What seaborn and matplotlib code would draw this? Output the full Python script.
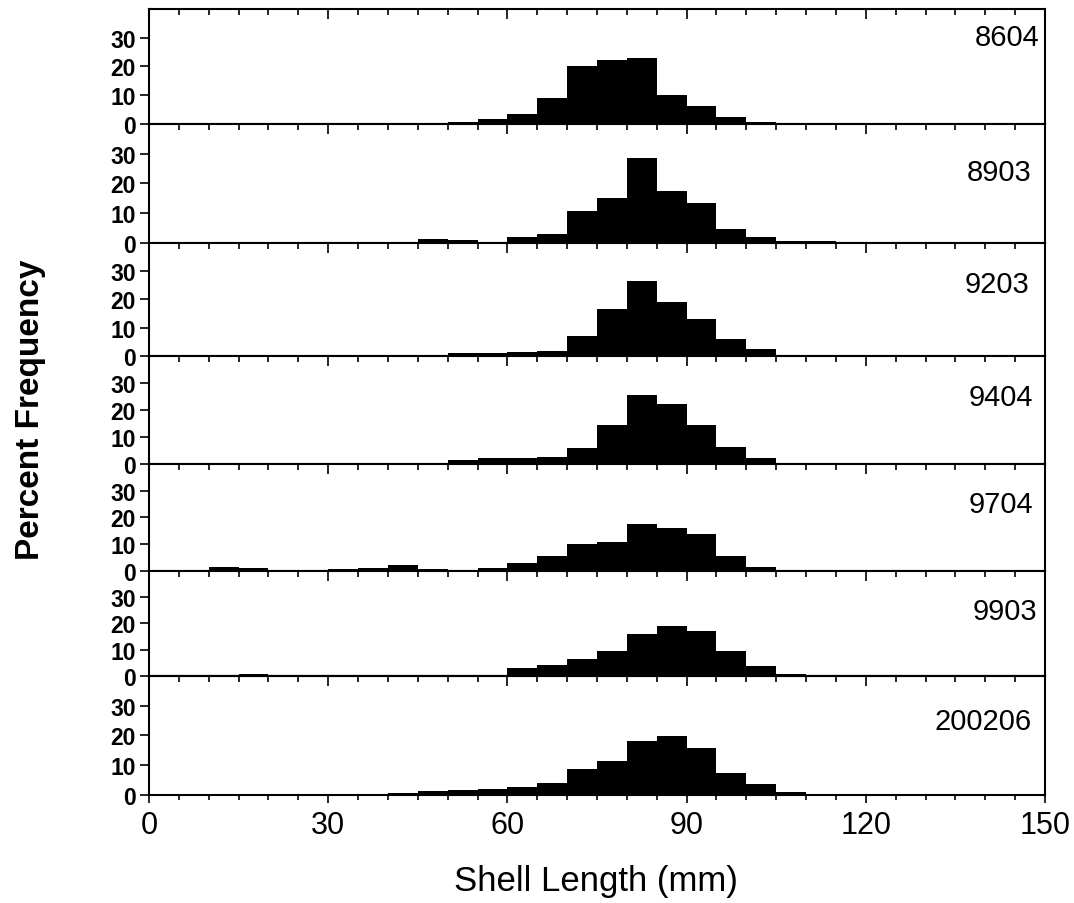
import numpy as np
import pandas as pd
import matplotlib
matplotlib.use('Agg')
import matplotlib.pyplot as plt
import seaborn as sns

# 5 mm size classes, 0-150 mm (left edges)
bin_left = list(range(0, 150, 5))

# percent frequency per size class
p8604 = [0, 0, 0, 0, 0, 0, 0, 0, 0, 0,
         0.6, 1.7, 3.4, 8.9, 20.1, 22.1, 23.1, 10.2, 6.2, 2.5,
         0.6, 0, 0, 0, 0, 0, 0, 0, 0, 0]
p8903 = [0, 0, 0, 0, 0, 0, 0, 0, 0.4, 1.2,
         1.0, 0.4, 2.1, 2.9, 10.9, 15.1, 28.5, 17.4, 13.5, 4.7,
         2.0, 0.6, 0.5, 0, 0, 0, 0, 0, 0, 0]
p9203 = [0, 0, 0, 0, 0, 0, 0.5, 0.4, 0.5, 0.4,
         1.2, 0.9, 1.5, 1.8, 7.0, 16.7, 26.7, 19.0, 13.0, 5.9,
         2.4, 0.4, 0, 0, 0, 0, 0, 0, 0, 0]
p9404 = [0, 0, 0, 0, 0, 0, 0, 0, 0, 0.4,
         1.6, 2.2, 2.2, 2.4, 6.0, 14.4, 25.6, 22.2, 14.6, 6.4,
         2.2, 0.3, 0, 0, 0, 0, 0, 0, 0, 0]
p9704 = [0, 0.4, 1.5, 1.0, 0.5, 0, 0.7, 1.2, 2.2, 0.9,
         0.4, 1.1, 3.0, 5.7, 10.0, 10.9, 17.5, 16.2, 13.8, 5.6,
         1.6, 0.3, 0, 0, 0, 0, 0, 0, 0, 0]
p9903 = [0.3, 0.3, 0.3, 0.8, 0.3, 0.3, 0.3, 0.3, 0.3, 0.3,
         0.3, 0.3, 3.0, 4.1, 6.4, 9.4, 16.1, 19.1, 17.2, 9.4,
         3.7, 0.75, 0.3, 0.3, 0.3, 0.3, 0.3, 0.3, 0.3, 0.3]
p200206 = [0, 0, 0, 0, 0, 0, 0, 0, 0.6, 1.2,
           1.8, 2.1, 2.6, 4.0, 8.8, 11.3, 18.2, 19.8, 15.8, 7.3,
           3.7, 1.0, 0.3, 0, 0, 0, 0, 0, 0, 0]

samples = ['8604', '8903', '9203', '9404', '9704', '9903', '200206']
series = [p8604, p8903, p9203, p9404, p9704, p9903, p200206]

sns.set_style('white')
plt.rcParams['font.family'] = ['Liberation Sans', 'DejaVu Sans']
plt.rcParams['text.color'] = 'black'
plt.rcParams['xtick.color'] = 'black'
plt.rcParams['ytick.color'] = 'black'

fig, axes = plt.subplots(7, 1, figsize=(10.74, 9.04), dpi=100, sharex=True,
                         gridspec_kw={'height_ratios': [115, 119, 113, 108, 107, 105, 119],
                                      'hspace': 0})
fig.subplots_adjust(left=0.1387, right=0.973, top=0.989, bottom=0.1195)

# where each sample label sits (axes fraction)
label_x = [0.994, 0.985, 0.983, 0.987, 0.987, 0.991, 0.985]
label_y = [0.76, 0.6, 0.64, 0.62, 0.63, 0.62, 0.62]


def top_ticks_in(axis):
    axis.set_xticks(range(0, 151, 30))
    axis.set_xticks(range(0, 151, 5), minor=True)
    axis.tick_params(axis='x', which='both', direction='in', width=1.2, labeltop=False)
    axis.tick_params(axis='x', which='major', length=7)
    axis.tick_params(axis='x', which='minor', length=4)


for i, (ax, name, vals) in enumerate(zip(axes, samples, series)):
    df = pd.DataFrame({'length': bin_left, 'pct': vals})
    sns.histplot(data=df, x='length', weights='pct', binwidth=5, binrange=(0, 150),
                 ax=ax, color='black', alpha=1, linewidth=0, element='bars')
    ax.set_xlim(0, 150)
    ax.set_ylim(0, 40)
    ax.set_yticks([0, 10, 20, 30])
    ax.set_ylabel('')
    ax.set_xlabel('')
    for s in ax.spines.values():
        s.set_linewidth(1.5)
        s.set_color('black')
    ax.set_xticks(range(0, 151, 30))
    ax.set_xticks(range(0, 151, 5), minor=True)
    ax.tick_params(axis='y', direction='out', length=6.5, width=1.2, labelsize=16.5,
                   left=True, pad=3)
    for lab in ax.get_yticklabels():
        lab.set_fontweight('bold')
    if i < 6:
        ax.tick_params(axis='x', which='both', top=True, bottom=False, direction='in',
                       labelbottom=False, width=1.2)
        ax.tick_params(axis='x', which='major', length=7)
        ax.tick_params(axis='x', which='minor', length=4)
    else:
        ax.tick_params(axis='x', which='both', top=False, bottom=True, direction='out',
                       labelbottom=True, labelsize=22, pad=5, width=1.2)
        ax.tick_params(axis='x', which='major', length=6)
        ax.tick_params(axis='x', which='minor', length=3.5)
        sec = ax.secondary_xaxis('top')
        top_ticks_in(sec)
        sec.spines['top'].set_linewidth(1.5)
    ax.text(label_x[i], label_y[i], name, transform=ax.transAxes, ha='right', va='center',
            fontsize=21)

fig.text(0.028, 1 - 410 / 904, 'Percent Frequency', rotation=90, ha='center', va='center',
         fontsize=24, fontweight='bold')
fig.text(596 / 1074, 1 - 882 / 904, 'Shell Length (mm)', ha='center', va='center',
         fontsize=25)

plt.savefig('out.png', dpi=100)
